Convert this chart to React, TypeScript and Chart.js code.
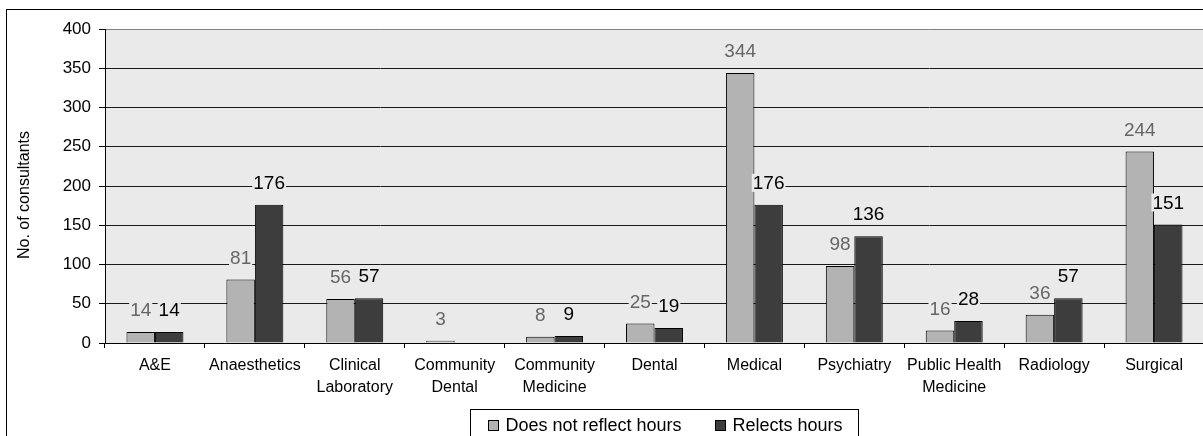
import { useEffect, useRef } from "react";
import { Chart, registerables } from "chart.js";

Chart.register(...registerables);

const categories: string[][] = [
  ["A&E"],
  ["Anaesthetics"],
  ["Clinical", "Laboratory"],
  ["Community", "Dental"],
  ["Community", "Medicine"],
  ["Dental"],
  ["Medical"],
  ["Psychiatry"],
  ["Public Health", "Medicine"],
  ["Radiology"],
  ["Surgical"],
];
const notReflectHours: (number | null)[] = [14, 81, 56, 3, 8, 25, 344, 98, 16, 36, 244];
const reflectsHours: (number | null)[] = [14, 176, 57, null, 9, 19, 176, 136, 28, 57, 151];
const seriesNames = ["Does not reflect hours", "Relects hours"];
const yAxisTitle = "No. of consultants";
const yMin = 0;
const yMax = 400;
const yStep = 50;

const FONT = '"Liberation Sans", Arial, Helvetica, sans-serif';
const PLOT_BG = "#EAEAEA";
const COLORS = ["#B3B3B3", "#3D3D3D"];
const LABEL_COLORS = ["#666666", "#000000"];

const decorPlugin = {
  id: "decor",
  beforeDraw(chart: any) {
    const { ctx, chartArea: a } = chart;
    ctx.save();
    ctx.fillStyle = "#ffffff";
    ctx.fillRect(0, 0, chart.width, chart.height);
    ctx.strokeStyle = "#000";
    ctx.lineWidth = 1;
    ctx.strokeRect(6.5, 9.5, chart.width + 20, chart.height + 20);
    ctx.fillStyle = PLOT_BG;
    ctx.fillRect(a.left, a.top, a.right - a.left, a.bottom - a.top);
    ctx.restore();
  },
  afterDatasetsDraw(chart: any) {
    const { ctx } = chart;
    ctx.save();
    ctx.font = `19px ${FONT}`;
    ctx.textAlign = "center";
    ctx.textBaseline = "middle";
    chart.data.datasets.forEach((ds: any, di: number) => {
      const meta = chart.getDatasetMeta(di);
      meta.data.forEach((el: any, i: number) => {
        const v = ds.data[i];
        if (v === null || v === undefined) return;
        const t = String(v);
        const w = ctx.measureText(t).width;
        const cy = el.y - 22;
        ctx.fillStyle = PLOT_BG;
        ctx.fillRect(el.x - w / 2 - 1, cy - 9, w + 2, 18);
        ctx.fillStyle = LABEL_COLORS[di];
        ctx.fillText(t, el.x, cy + 1);
      });
    });
    ctx.restore();
  },
  afterDraw(chart: any) {
    const { ctx } = chart;
    ctx.save();
    // y axis title
    ctx.translate(25, 195);
    ctx.rotate(-Math.PI / 2);
    ctx.font = `16px ${FONT}`;
    ctx.fillStyle = "#000";
    ctx.textAlign = "center";
    ctx.textBaseline = "middle";
    ctx.fillText(yAxisTitle, 0, 0);
    ctx.restore();

    // legend
    ctx.save();
    ctx.fillStyle = "#fff";
    ctx.fillRect(471, 410, 387, 60);
    ctx.strokeStyle = "#000";
    ctx.lineWidth = 1;
    ctx.strokeRect(470.5, 409.5, 388, 60);
    const xs = [488.5, 715.5];
    ctx.font = `18px ${FONT}`;
    ctx.textBaseline = "middle";
    ctx.textAlign = "left";
    chart.data.datasets.forEach((ds: any, di: number) => {
      ctx.fillStyle = COLORS[di];
      ctx.fillRect(xs[di], 420.5, 10, 10);
      ctx.strokeStyle = "#000";
      ctx.strokeRect(xs[di], 420.5, 10, 10);
      ctx.fillStyle = "#000";
      ctx.fillText(ds.label, xs[di] + 17, 426);
    });
    ctx.restore();
  },
};

export default function App() {
  const ref = useRef<HTMLCanvasElement | null>(null);

  useEffect(() => {
    if (!ref.current) return;
    Chart.defaults.font.family = FONT;
    const chart = new Chart(ref.current, {
      type: "bar",
      data: {
        labels: categories,
        datasets: [
          {
            label: seriesNames[0],
            data: notReflectHours,
            backgroundColor: COLORS[0],
            borderColor: "#000",
            borderWidth: 1,
            categoryPercentage: 0.57,
            barPercentage: 1,
          },
          {
            label: seriesNames[1],
            data: reflectsHours,
            backgroundColor: COLORS[1],
            borderColor: "#000",
            borderWidth: 1,
            categoryPercentage: 0.57,
            barPercentage: 1,
          },
        ],
      },
      options: {
        responsive: false,
        animation: false,
        devicePixelRatio: 1,
        layout: { padding: { top: 29, right: 10, left: 0, bottom: 0 } },
        plugins: {
          legend: { display: false },
          title: { display: false },
          tooltip: { enabled: false },
        },
        scales: {
          x: {
            grid: {
              display: true,
              drawOnChartArea: false,
              drawTicks: true,
              tickLength: 5,
              color: "#000",
              offset: true,
            },
            border: { display: true, color: "#000", width: 1 },
            ticks: {
              font: { family: FONT, size: 16, lineHeight: 22 / 16 },
              color: "#000",
              padding: 7,
              maxRotation: 0,
              autoSkip: false,
            },
            afterFit(s: any) {
              s.height = 117;
            },
          },
          y: {
            min: yMin,
            max: yMax,
            ticks: {
              stepSize: yStep,
              font: { family: FONT, size: 17 },
              color: "#000",
              padding: 8,
            },
            grid: {
              color: (c: any) => (c.tick && c.tick.value === yMax ? "#808080" : "#1a1a1a"),
              tickColor: "#000",
              tickLength: 6,
              drawTicks: true,
            },
            border: { display: true, color: "#000", width: 1 },
            afterFit(s: any) {
              s.width = 105;
            },
          },
        },
      },
      plugins: [decorPlugin],
    } as any);
    return () => chart.destroy();
  }, []);

  return (
    <div
      style={{
        position: "fixed",
        left: 0,
        top: 0,
        width: 1203,
        height: 436,
        overflow: "hidden",
        background: "#fff",
      }}
    >
      <canvas ref={ref} width={1214} height={460} style={{ display: "block" }} />
    </div>
  );
}
